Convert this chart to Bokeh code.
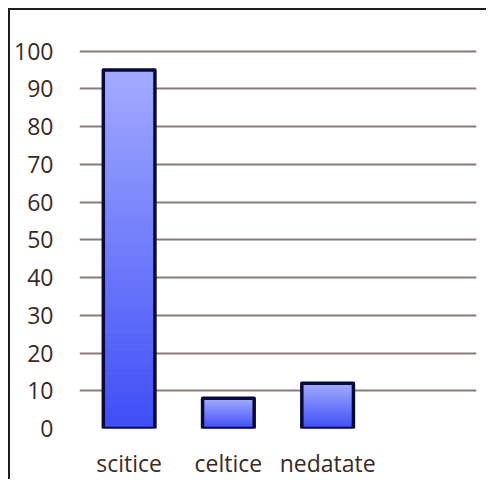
from bokeh.plotting import figure
from bokeh.models import FactorRange, Range1d, ColumnDataSource
from bokeh.embed import file_html
from bokeh.resources import INLINE

categories = ["scitice", "celtice", "nedatate", " "]
values = [95, 8, 12]
y_ticks = [0, 10, 20, 30, 40, 50, 60, 70, 80, 90, 100]

TOP = (163, 171, 255)
BOT = (62, 78, 246)
N = 60

p = figure(width=478, height=471, output_backend="svg", toolbar_location=None,
           x_range=FactorRange(*categories, range_padding=0),
           y_range=Range1d(0, 100.4),
           min_border_left=69, min_border_right=12, min_border_top=39, min_border_bottom=51,
           styles={"border-top": "2px solid #1e1e1e", "border-left": "2px solid #1e1e1e",
                   "margin-top": "8px", "margin-left": "8px"})
p.outline_line_color = None

# gradient fill via stacked slices of each bar
xs, bots, tops, cols = [], [], [], []
for cat, v in zip(categories, values):
    for i in range(N):
        f0 = i / N
        f1 = (i + 1) / N
        t = (f0 + f1) / 2
        c = tuple(int(round(BOT[k] + (TOP[k] - BOT[k]) * t)) for k in range(3))
        xs.append(cat)
        bots.append(v * f0)
        tops.append(v * f1)
        cols.append("#%02x%02x%02x" % c)
p.vbar(x=xs, bottom=bots, top=tops, width=0.52, fill_color=cols, line_color=cols, line_width=1)
src = ColumnDataSource(dict(x=categories[:3], top=values))
p.vbar(x="x", top="top", bottom=0, width=0.52, source=src, fill_color=None,
       line_color="#0a0a36", line_width=3.5, line_join="round")

p.ygrid.ticker = y_ticks
p.ygrid.grid_line_color = "#8c7b78"
p.ygrid.grid_line_width = 2
p.xgrid.grid_line_color = None

p.yaxis.ticker = y_ticks
p.yaxis.axis_line_color = None
p.yaxis.major_tick_line_color = None
p.yaxis.minor_tick_line_color = None
p.yaxis.major_label_standoff = 20
p.yaxis.major_label_text_font = "Open Sans"
p.yaxis.major_label_text_font_size = "23px"
p.yaxis.major_label_text_color = "#3a2a26"

p.xaxis.axis_line_color = None
p.xaxis.major_tick_line_color = None
p.xaxis.major_label_standoff = 12
p.xaxis.major_label_text_font = "Open Sans"
p.xaxis.major_label_text_font_size = "23px"
p.xaxis.major_label_text_color = "#3a2a26"

open("out.html", "w").write(file_html(p, INLINE))
